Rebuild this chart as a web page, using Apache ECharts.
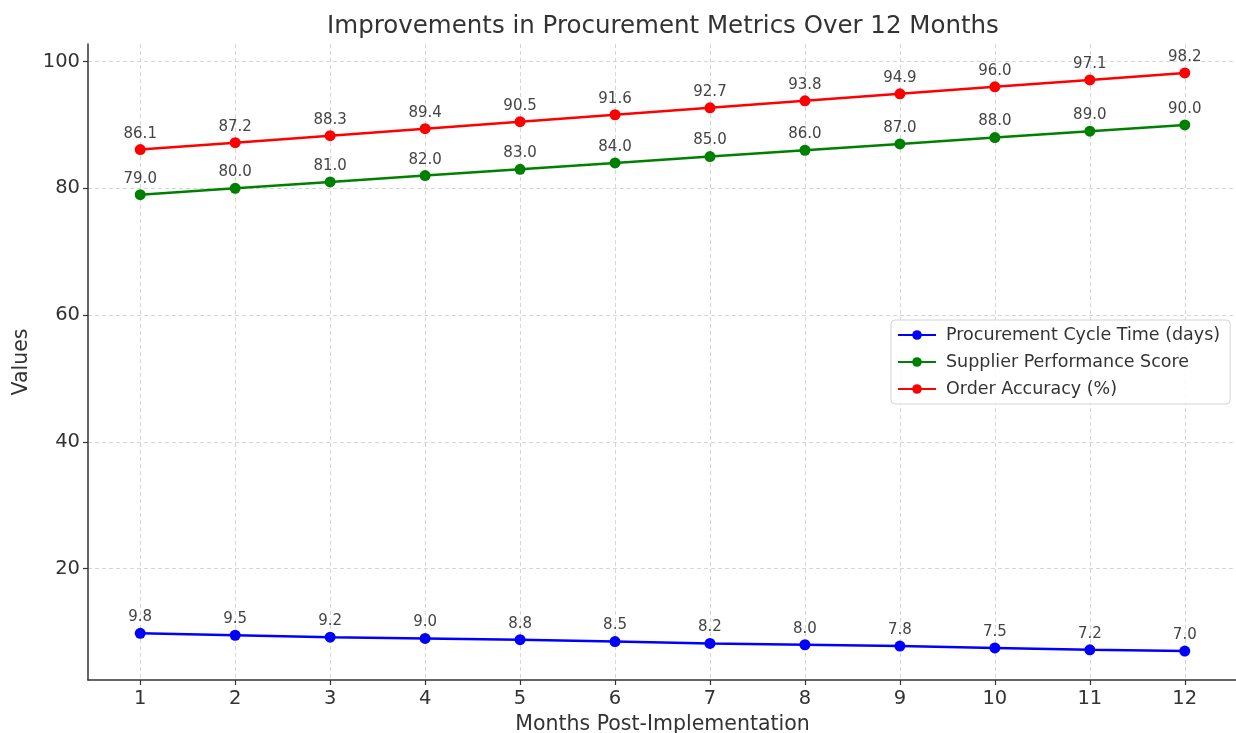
<!DOCTYPE html>
<html>
<head>
<meta charset="utf-8">
<script src="https://cdn.jsdelivr.net/npm/echarts@6/dist/echarts.min.js"></script>
<style>
  html, body { margin: 0; padding: 0; background: #fff; overflow: hidden; }
  #chart { width: 1236px; height: 733px; }
</style>
</head>
<body>
<div id="chart"></div>
<script>
// Monthly procurement metrics after implementation
const months = [1, 2, 3, 4, 5, 6, 7, 8, 9, 10, 11, 12];
const cycleTime = [9.8, 9.5, 9.2, 9.0, 8.8, 8.5, 8.2, 8.0, 7.8, 7.5, 7.2, 7.0];
const supplierScore = [79.0, 80.0, 81.0, 82.0, 83.0, 84.0, 85.0, 86.0, 87.0, 88.0, 89.0, 90.0];
const orderAccuracy = [86.1, 87.2, 88.3, 89.4, 90.5, 91.6, 92.7, 93.8, 94.9, 96.0, 97.1, 98.2];
const yTicks = [20, 40, 60, 80, 100];

const seriesDefs = [
  { name: 'Procurement Cycle Time (days)', values: cycleTime, color: '#0000ff' },
  { name: 'Supplier Performance Score', values: supplierScore, color: '#008000' },
  { name: 'Order Accuracy (%)', values: orderAccuracy, color: '#ff0000' }
];

const font = 'DejaVu Sans';
const chart = echarts.init(document.getElementById('chart'), null, { renderer: 'canvas' });

const gridLine = { show: true, lineStyle: { color: '#cccccc', type: [4, 3], width: 0.8 } };

chart.setOption({
  animation: false,
  backgroundColor: '#ffffff',
  title: {
    text: 'Improvements in Procurement Metrics Over 12 Months',
    left: 658, top: 9, textAlign: 'center',
    textStyle: { fontFamily: font, fontSize: 24.5, fontWeight: 'normal', color: '#333333' }
  },
  grid: { left: 88, right: -1, top: 44, bottom: 53, containLabel: false, outerBoundsMode: 'none' },
  legend: {
    orient: 'vertical',
    left: 891, top: 320,
    padding: [6, 10, 6, 6],
    itemWidth: 38, itemHeight: 12, itemGap: 9,
    backgroundColor: 'rgba(255,255,255,0.85)',
    borderColor: '#d4d4d4', borderWidth: 1, borderRadius: 4,
    textStyle: { fontFamily: font, fontSize: 17.5, color: '#333333', padding: [0, 0, 0, 5] },
    data: seriesDefs.map(s => s.name)
  },
  xAxis: {
    type: 'value',
    min: 0.45, max: 12.55,
    name: 'Months Post-Implementation',
    nameLocation: 'middle', nameGap: 32,
    nameTextStyle: { fontFamily: font, fontSize: 20.5, color: '#333333' },
    axisLine: { show: true, onZero: false, lineStyle: { color: '#333333', width: 1.5 } },
    axisTick: { show: true, customValues: months, length: 5, inside: false, lineStyle: { color: '#333333', width: 1.2 } },
    axisLabel: { customValues: months, fontFamily: font, fontSize: 19.5, color: '#333333', margin: 9 },
    splitLine: gridLine
  },
  yAxis: {
    type: 'value',
    min: 2.44, max: 102.76,
    name: 'Values',
    nameLocation: 'middle', nameGap: 56, nameRotate: 90,
    nameTextStyle: { fontFamily: font, fontSize: 20.5, color: '#333333' },
    axisLine: { show: true, onZero: false, lineStyle: { color: '#333333', width: 1.5 } },
    axisTick: { show: true, customValues: yTicks, length: 5, lineStyle: { color: '#333333', width: 1.2 } },
    axisLabel: { customValues: yTicks, fontFamily: font, fontSize: 19.5, color: '#333333', margin: 8 },
    splitLine: gridLine
  },
  series: seriesDefs.map(s => ({
    name: s.name,
    type: 'line',
    data: months.map((m, i) => [m, s.values[i]]),
    symbol: 'circle',
    symbolSize: 11,
    lineStyle: { color: s.color, width: 2.5 },
    itemStyle: { color: s.color },
    label: {
      show: true, position: 'top', distance: 3,
      fontFamily: font, fontSize: 15, color: '#444444',
      formatter: p => p.value[1].toFixed(1)
    }
  }))
});
</script>
</body>
</html>
